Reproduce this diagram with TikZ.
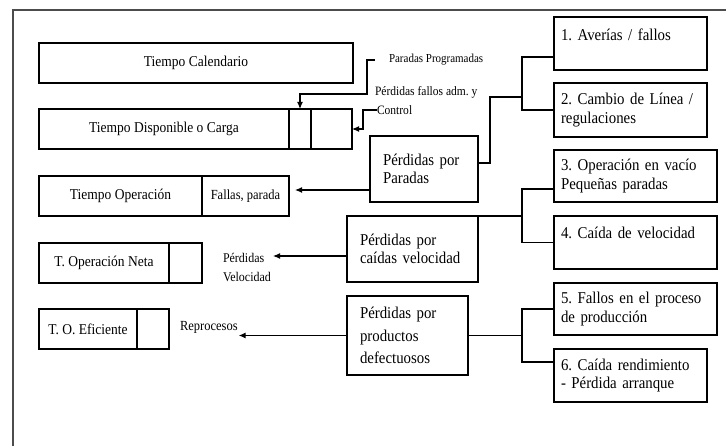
\documentclass[tikz,border=0pt]{standalone}
\usepackage{fontspec}
\setmainfont{Liberation Serif}[FakeStretch=0.9]
\usetikzlibrary{arrows.meta,calc}
\newcommand{\fsz}[2]{\fontsize{#1}{#2}\selectfont}
\frenchspacing
\begin{document}
\frenchspacing
\begin{tikzpicture}[x=1pt,y=-1pt,
  frame/.style={line width=1.4pt,draw=black!70},
  cell/.style={draw,line width=1.5pt,anchor=north west,inner sep=0pt,outer sep=0pt,minimum height=40pt,font=\fsz{15}{17}},
  rbox/.style={draw,line width=1.5pt,anchor=north west,align=left,inner xsep=7pt,inner ysep=0pt,outer sep=0pt,font=\fsz{16.5}{18.5}},
  mbox/.style={rbox,inner xsep=13pt},
  lbl/.style={inner sep=0pt,outer sep=0pt,anchor=west},
  conn/.style={line width=1.1pt},
  arr/.style={line width=1.1pt,-{Latex[length=7pt,width=6pt]}}]
\useasboundingbox (0,0) rectangle (726,446);
\draw[frame] (13,446) -- (13,10) -- (726,10);

% left column
\node[cell,minimum width=314pt] (cal) at (39,43) {Tiempo Calendario};
\node[cell,minimum width=250pt] (d1) at (39,109) {Tiempo Disponible o Carga};
\node[cell,minimum width=22pt] (d2) at (289,109) {};
\node[cell,minimum width=41pt] (d3) at (311,109) {};
\node[cell,minimum width=163pt] (o1) at (39,176) {Tiempo Operación};
\node[cell,minimum width=87pt,font=\fsz{13.9}{16}] (o2) at (202,176) {Fallas, parada};
\node[cell,minimum width=130pt] (n1) at (39,243) {T. Operación Neta};
\node[cell,minimum width=33pt] (n2) at (169,243) {};
\node[cell,minimum width=98pt] (e1) at (39,309) {T. O. Eficiente};
\node[cell,minimum width=32pt] (e2) at (137,309) {};

% small labels
\node[lbl,font=\fsz{12.2}{14},outer xsep=14pt] (pp) at (375,60) {Paradas Programadas};
\node[lbl,font=\fsz{12.8}{14}] (pfa) at (375,92) {Pérdidas fallos adm. y};
\node[lbl,font=\fsz{12.8}{14}] (ctl) at (377,110) {Control};
\node[lbl,font=\fsz{13.3}{15},text width=50pt,align=left] (pv1) at (223,258) {Pérdidas};
\node[lbl,font=\fsz{13.3}{15}] (pv2) at (223,277) {Velocidad};
\node[lbl,font=\fsz{13.9}{15},inner xsep=1pt] (rep) at (179,327) {Reprocesos};

% middle boxes
\node[mbox,text width=82pt,minimum height=66pt] (pp2) at (370,136) {Pérdidas por\\Paradas};
\node[mbox,text width=105pt,minimum height=66pt] (vel) at (347,216) {Pérdidas por\\caídas velocidad};
\node[mbox,text width=95pt,minimum height=79pt,font=\fsz{16.5}{22.5}] (def) at (347,296) {Pérdidas por\\productos\\defectuosos};

% right boxes
\node[rbox,text width=139pt,minimum height=53pt] (b1) at (554,17) {1. Averías / fallos\\~};
\node[rbox,text width=139pt,minimum height=54pt] (b2) at (554,83) {2. Cambio de Línea /\\regulaciones};
\node[rbox,text width=149pt,minimum height=52pt] (b3) at (554,150) {3. Operación en vacío\\Pequeñas paradas};
\node[rbox,text width=149pt,minimum height=53pt] (b4) at (554,216) {4. Caída de velocidad\\~};
\node[rbox,text width=149pt,minimum height=52pt] (b5) at (554,283) {5. Fallos en el proceso\\de producción};
\node[rbox,text width=139pt,minimum height=53pt] (b6) at (554,349) {6. Caída rendimiento\\- Pérdida arranque};

\coordinate (j1) at (522,97);
\coordinate (j2) at (522,216);
\coordinate (j3) at (522,335.5);

% brackets
\draw[conn] ($(b1.south west)+(0,-13)$) -- ++(-32,0) |- (b2.west);
\draw[conn] ($(b3.south west)+(0,-13)$) -- ++(-32,0) |- (b4.west);
\draw[conn] (b5.west) -- ++(-32,0) |- ($(b6.north west)+(0,13)$);
\draw[conn] ($(pp2.east)+(0,-6)$) -- ++(12,0) |- (j1);
\draw[conn] (vel.north east) -- (j2);
\draw[conn] (def.east) -- (j3);

% arrows
\draw[arr] (pp.west) -| (367,94) -| (d2.north);
\draw[arr] (ctl.west) -- ++(-14,0) |- (d3.east);
\draw[arr,shorten >=6pt] ($(pp2.south west)+(0,-12)$) coordinate (s1) -- (s1 -| o2.east);
\draw[arr] ($(vel.south west)+(0,-26)$) coordinate (s2) -- (s2 -| pv1.east);
\draw[arr] (def.west) -- (def.west -| rep.east);
\end{tikzpicture}
\end{document}
